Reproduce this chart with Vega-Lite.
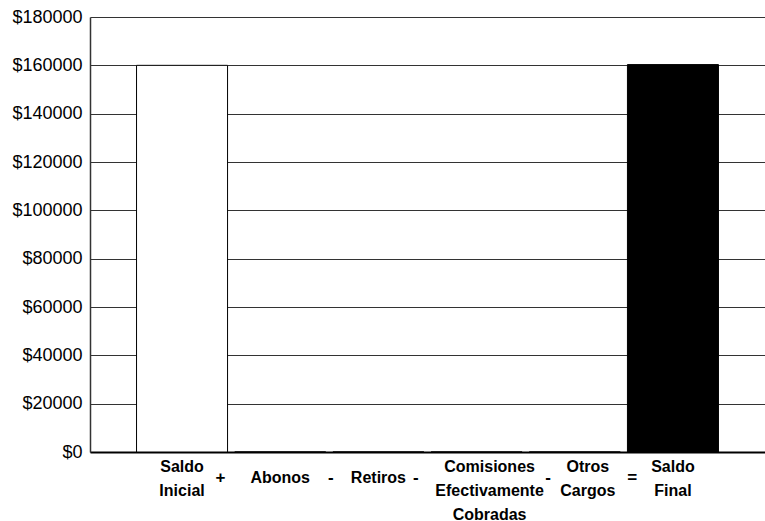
{
  "$schema": "https://vega.github.io/schema/vega-lite/v6.json",
  "width": 675,
  "height": 435,
  "autosize": "none",
  "padding": {"left": 90, "top": 17, "right": 0, "bottom": 69},
  "background": "white",
  "config": {"view": {"stroke": null}},
  "layer": [
    {
      "data": {"values": [
        {"cat": "Saldo Inicial", "monto": 160000},
        {"cat": "Abonos", "monto": 0},
        {"cat": "Retiros", "monto": 0},
        {"cat": "Comisiones Efectivamente Cobradas", "monto": 0},
        {"cat": "Otros Cargos", "monto": 0},
        {"cat": "Saldo Final", "monto": 160300}
      ]},
      "mark": {"type": "bar", "stroke": "black", "strokeWidth": 1},
      "encoding": {
        "x": {
          "field": "cat", "type": "nominal", "sort": null, "title": null,
          "scale": {
            "domain": ["Saldo Inicial", "Abonos", "Retiros", "Comisiones Efectivamente Cobradas", "Otros Cargos", "Saldo Final"],
            "paddingInner": 0.073, "paddingOuter": 0.474
          },
          "axis": {
            "grid": false, "ticks": false,
            "domainColor": "black", "domainWidth": 2,
            "labelAngle": 0,
            "labelExpr": "split(datum.label, ' ')",
            "labelFont": "Liberation Sans",
            "labelFontWeight": "bold",
            "labelFontSize": 16,
            "labelColor": "black",
            "labelLineHeight": 24,
            "labelBaseline": "top",
            "labelOverlap": false,
            "labelBound": false,
            "labelLimit": 0,
            "labelPadding": {"condition": {"test": "datum.value == 'Abonos' || datum.value == 'Retiros'", "value": 17}, "value": 6},
            "labelOffset": {"condition": {"test": "datum.value == 'Comisiones Efectivamente Cobradas' || datum.value == 'Otros Cargos'", "value": 13}, "value": 0}
          }
        },
        "y": {
          "field": "monto", "type": "quantitative", "title": null,
          "scale": {"domain": [0, 180000], "nice": false},
          "axis": {
            "values": [0, 20000, 40000, 60000, 80000, 100000, 120000, 140000, 160000, 180000],
            "labelExpr": "'$' + datum.value",
            "ticks": false,
            "grid": true, "gridColor": "#333333", "gridWidth": 1, "gridOpacity": 1,
            "domainColor": "#333333", "domainWidth": 1.5,
            "labelFont": "Liberation Sans", "labelFontSize": 18, "labelColor": "black",
            "labelPadding": 8
          }
        },
        "color": {
          "field": "cat", "type": "nominal", "legend": null,
          "scale": {
            "domain": ["Saldo Inicial", "Abonos", "Retiros", "Comisiones Efectivamente Cobradas", "Otros Cargos", "Saldo Final"],
            "range": ["white", "white", "white", "white", "white", "black"]
          }
        }
      }
    },
    {
      "data": {"values": [
        {"op": "+", "after": "Saldo Inicial"},
        {"op": "-", "after": "Abonos"},
        {"op": "-", "after": "Retiros"},
        {"op": "-", "after": "Comisiones Efectivamente Cobradas"},
        {"op": "=", "after": "Otros Cargos"}
      ]},
      "mark": {
        "type": "text", "align": "center", "baseline": "middle",
        "font": "Liberation Sans", "fontWeight": "bold", "fontSize": 17, "color": "black",
        "dx": {"expr": "datum.after == 'Saldo Inicial' ? -7 : datum.after == 'Abonos' ? 5 : datum.after == 'Retiros' ? -8 : datum.after == 'Comisiones Efectivamente Cobradas' ? 26 : 12"}
      },
      "encoding": {
        "x": {"field": "after", "type": "nominal", "bandPosition": 1},
        "y": {"datum": -10800, "type": "quantitative"},
        "text": {"field": "op"}
      }
    }
  ]
}
